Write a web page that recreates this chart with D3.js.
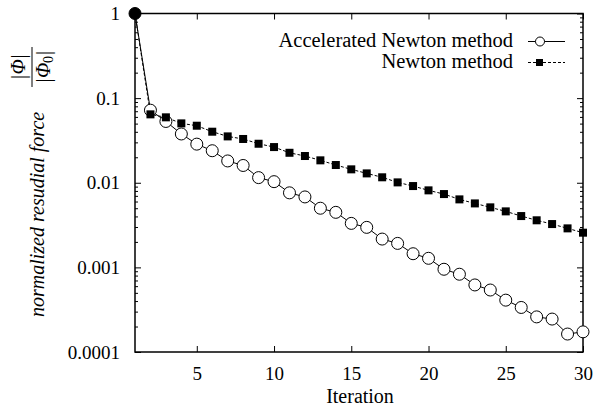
<!DOCTYPE html>
<html><head><meta charset="utf-8">
<script src="https://cdn.jsdelivr.net/npm/d3@7"></script>
<style>
body{margin:0;background:#fff;}
svg{display:block;}
svg text{font-family:"Liberation Serif","DejaVu Serif",serif !important;fill:#000;}
</style></head>
<body>
<svg id="chart" width="594" height="407"></svg>
<script>
const iterations = d3.range(1, 31);
const accelerated = [1, 0.072, 0.053, 0.0377, 0.0286, 0.0239, 0.0181, 0.016, 0.0115, 0.0103,
  0.0076, 0.0068, 0.0050, 0.00447, 0.00331, 0.00297, 0.00216, 0.00192, 0.00145, 0.00128,
  0.00095, 0.00083, 0.00062, 0.00054, 0.00041, 0.000336, 0.00026, 0.000245, 0.000163, 0.000173];
const newton = [1, 0.0643, 0.0593, 0.0503, 0.0472, 0.0401, 0.0353, 0.0329, 0.0289, 0.0264,
  0.0226, 0.0207, 0.0184, 0.0162, 0.0144, 0.0129, 0.0116, 0.0101, 0.00914, 0.00813,
  0.00735, 0.00636, 0.0057, 0.00512, 0.00459, 0.00404, 0.0036, 0.00325, 0.00289, 0.00257];
const xTicks = [5, 10, 15, 20, 25, 30];
const yTicks = [1, 0.1, 0.01, 0.001, 0.0001];
const yTickLabels = ["1", "0.1", "0.01", "0.001", "0.0001"];
const seriesNames = ["Accelerated Newton method", "Newton method"];

const L = 135, R = 583, T = 13.5, B = 352;
const FONT = "Liberation Serif";
const svg = d3.select("#chart");
const x = d3.scaleLinear().domain([1, 30]).range([L, R]);
const y = d3.scaleLog().domain([0.0001, 1]).range([B, T]);

const minor = [];
for (let e = -4; e < 0; e++) for (let m = 2; m <= 9; m++) minor.push(m * Math.pow(10, e));

const g = svg.append("g");
const leftAxis = d3.axisLeft(y).tickValues(yTicks).tickSize(-6).tickPadding(15)
  .tickFormat((d, i) => yTickLabels[i]);
g.append("g").attr("transform", `translate(${L},0)`).call(leftAxis);
g.append("g").attr("transform", `translate(${L},0)`).call(d3.axisLeft(y).tickValues(minor).tickSize(-3).tickFormat(""));
g.append("g").attr("transform", `translate(${R},0)`).call(d3.axisRight(y).tickValues(yTicks).tickSize(-6).tickFormat(""));
g.append("g").attr("transform", `translate(${R},0)`).call(d3.axisRight(y).tickValues(minor).tickSize(-3).tickFormat(""));
g.append("g").attr("transform", `translate(0,${B})`).call(d3.axisBottom(x).tickValues(xTicks).tickSize(-6).tickPadding(15));
g.append("g").attr("transform", `translate(0,${T})`).call(d3.axisTop(x).tickValues(xTicks).tickSize(-6).tickFormat(""));

g.selectAll("g").attr("font-family", FONT).attr("font-size", 19);
g.selectAll(".domain").remove();
g.selectAll(".tick line").attr("stroke", "#000").attr("stroke-width", 1);
g.selectAll(".tick text").attr("font-size", 19).attr("font-family", FONT);

svg.append("rect").attr("x", L).attr("y", T).attr("width", R - L).attr("height", B - T)
  .attr("fill", "none").attr("stroke", "#000").attr("stroke-width", 1.5);

const accData = iterations.map((it, i) => ({x: it, y: accelerated[i]}));
const newData = iterations.map((it, i) => ({x: it, y: newton[i]}));
const line = d3.line().x(d => x(d.x)).y(d => y(d.y));

svg.append("path").datum(newData).attr("d", line).attr("fill", "none")
  .attr("stroke", "#000").attr("stroke-width", 1).attr("stroke-dasharray", "3,2");
svg.append("path").datum(accData).attr("d", line).attr("fill", "none")
  .attr("stroke", "#000").attr("stroke-width", 1);

svg.append("g").selectAll("circle").data(accData).join("circle")
  .attr("cx", d => x(d.x)).attr("cy", d => y(d.y)).attr("r", 6)
  .attr("fill", (d, i) => i === 0 ? "#000" : "#fff").attr("stroke", "#000").attr("stroke-width", 1);
svg.append("g").selectAll("rect").data(newData.slice(1)).join("rect")
  .attr("x", d => x(d.x) - 4).attr("y", d => y(d.y) - 4).attr("width", 8).attr("height", 8)
  .attr("fill", "#000");

svg.append("text").attr("x", (L + R) / 2 + 1).attr("y", 403).attr("text-anchor", "middle")
  .attr("font-family", FONT).attr("font-size", 20).text("Iteration");

const yt = svg.append("g").attr("transform", "rotate(-90)").attr("font-family", FONT);
yt.append("text").attr("x", -317).attr("y", 44).attr("font-size", 20).attr("font-style", "italic")
  .text("normalized resudial force");
yt.append("line").attr("x1", -87).attr("x2", -47).attr("y1", 32).attr("y2", 32)
  .attr("stroke", "#000").attr("stroke-width", 1);
yt.append("text").attr("x", -67).attr("y", 25).attr("text-anchor", "middle").attr("font-size", 20)
  .attr("font-style", "italic").text("|Φ|");
const den = yt.append("text").attr("x", -67).attr("y", 50).attr("text-anchor", "middle").attr("font-size", 20)
  .attr("font-style", "italic");
den.append("tspan").text("|Φ");
den.append("tspan").attr("font-size", 14).attr("dy", 3).attr("font-style", "normal").text("0");
den.append("tspan").attr("dy", -3).text("|");

const leg = svg.append("g").attr("font-family", FONT);
const rows = [
  {name: seriesNames[0], yb: 47, ym: 41.5, dash: null, marker: "circle"},
  {name: seriesNames[1], yb: 68, ym: 62.5, dash: "3,2", marker: "square"}
];
rows.forEach(r => {
  leg.append("text").attr("x", 513).attr("y", r.yb).attr("text-anchor", "end").attr("font-size", 20.5).text(r.name);
  leg.append("line").attr("x1", 528).attr("x2", 565).attr("y1", r.ym).attr("y2", r.ym)
    .attr("stroke", "#000").attr("stroke-width", 1).attr("stroke-dasharray", r.dash);
  if (r.marker === "circle") {
    leg.append("circle").attr("cx", 540).attr("cy", r.ym).attr("r", 4.5).attr("fill", "#fff").attr("stroke", "#000");
  } else {
    leg.append("rect").attr("x", 536).attr("y", r.ym - 3.5).attr("width", 7).attr("height", 7).attr("fill", "#000");
  }
});
</script>
</body></html>
